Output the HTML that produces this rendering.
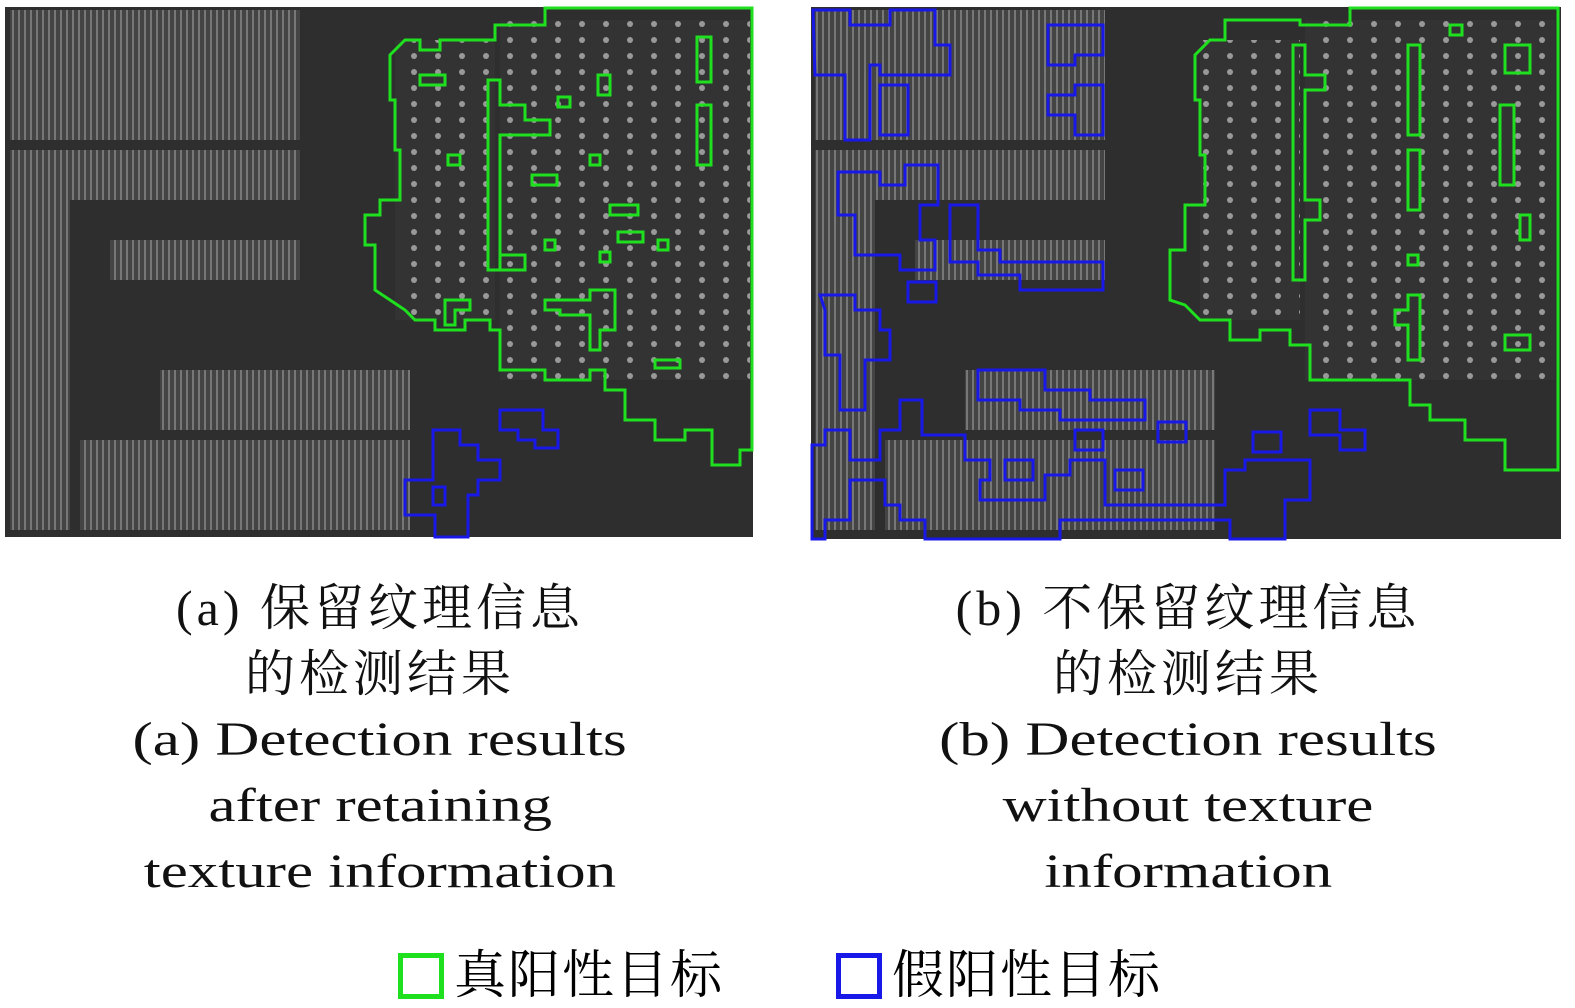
<!DOCTYPE html>
<html><head><meta charset="utf-8"><style>
body{margin:0;width:1575px;height:1000px;background:#fff;overflow:hidden;position:relative;font-family:"Liberation Serif","Noto Serif CJK SC",serif;}
.cap{position:absolute;text-align:center;font-size:48px;line-height:66px;color:#111;}
.cap div{height:66px;white-space:nowrap;}
.cap span{display:inline-block;}
.l{transform:scaleX(1.27);}
.c{font-size:50px;letter-spacing:4px;}
.leg{position:absolute;top:933px;font-size:52px;letter-spacing:2px;font-family:"Liberation Serif","Noto Serif CJK SC",serif;}
.box{display:inline-block;width:36px;height:36px;border:5px solid;vertical-align:-6px;margin-right:10px;}
</style></head><body>
<svg width="1575" height="545" style="position:absolute;left:0;top:0">
<defs>
<pattern id="st" width="6" height="14" patternUnits="userSpaceOnUse"><rect width="6" height="14" fill="#444"/><rect width="2" height="14" fill="#777"/></pattern>
<pattern id="dots" width="24" height="16" patternUnits="userSpaceOnUse"><rect width="24" height="16" fill="#333"/><circle cx="6" cy="8" r="3" fill="#999"/></pattern>
</defs>
<g>
<rect x="5" y="7" width="748" height="530" fill="#2e2e2e"/>
<rect x="10" y="10" width="290" height="130" fill="url(#st)"/>
<rect x="10" y="150" width="290" height="50" fill="url(#st)"/>
<rect x="10" y="200" width="60" height="330" fill="url(#st)"/>
<rect x="110" y="240" width="190" height="40" fill="url(#st)"/>
<rect x="160" y="370" width="250" height="60" fill="url(#st)"/>
<rect x="80" y="440" width="330" height="90" fill="url(#st)"/>
<rect x="395" y="40" width="100" height="280" fill="url(#dots)"/>
<rect x="500" y="20" width="250" height="360" fill="url(#dots)"/>
<g fill="none" stroke="#1ee01e" stroke-width="3">
<path d="M545,8 L752,8 L752,450 L740,450 L740,465 L712,465 L712,430 L685,430 L685,440 L655,440 L655,420 L625,420 L625,390 L605,390 L605,370 L590,370 L590,380 L545,380 L545,370 L500,370 L500,330 L490,330 L490,320 L465,320 L465,330 L435,330 L435,320 L415,320 L405,310 L390,300 L375,290 L375,245 L365,245 L365,215 L380,215 L380,200 L400,200 L400,150 L395,150 L395,100 L390,100 L390,55 L405,40 L420,40 L420,50 L440,50 L440,40 L495,40 L495,25 L545,25 Z"/>
<path d="M488,80 L488,270 L500,270 L500,255 L525,255 L525,270 L500,270 L500,135 L550,135 L550,120 L525,120 L525,105 L500,105 L500,80 Z"/>
<rect x="420" y="75" width="25" height="10"/><rect x="448" y="155" width="12" height="10"/>
<rect x="532" y="175" width="25" height="10"/><rect x="558" y="97" width="12" height="10"/>
<rect x="598" y="75" width="12" height="20"/><rect x="590" y="155" width="10" height="10"/>
<rect x="610" y="205" width="28" height="10"/><rect x="618" y="232" width="25" height="10"/>
<rect x="600" y="252" width="10" height="10"/><rect x="545" y="240" width="10" height="10"/>
<rect x="658" y="240" width="10" height="10"/><rect x="697" y="37" width="14" height="45"/>
<rect x="697" y="105" width="14" height="60"/><rect x="655" y="360" width="25" height="8"/>
<path d="M445,300 L470,300 L470,310 L455,310 L455,325 L445,325 Z"/>
<path d="M545,300 L590,300 L590,290 L615,290 L615,330 L600,330 L600,350 L590,350 L590,315 L560,315 L560,310 L545,310 Z"/>
</g>
<g fill="none" stroke="#1818e8" stroke-width="3">
<path d="M433,430 L460,430 L460,445 L478,445 L478,460 L500,460 L500,480 L478,480 L478,495 L468,495 L468,537 L435,537 L435,515 L405,515 L405,480 L433,480 Z"/>
<rect x="433" y="487" width="12" height="18"/>
<path d="M500,410 L543,410 L543,430 L558,430 L558,448 L535,448 L535,440 L518,440 L518,430 L500,430 Z"/>
</g>
</g>
<g>
<rect x="811" y="7" width="750" height="532" fill="#2e2e2e"/>
<rect x="815" y="10" width="290" height="130" fill="url(#st)"/>
<rect x="815" y="150" width="290" height="50" fill="url(#st)"/>
<rect x="815" y="200" width="60" height="330" fill="url(#st)"/>
<rect x="915" y="240" width="190" height="40" fill="url(#st)"/>
<rect x="965" y="370" width="250" height="60" fill="url(#st)"/>
<rect x="885" y="440" width="330" height="90" fill="url(#st)"/>
<rect x="1200" y="40" width="100" height="280" fill="url(#dots)"/>
<rect x="1305" y="20" width="250" height="360" fill="url(#dots)"/>
<g fill="none" stroke="#1ee01e" stroke-width="3">
<path d="M1350,8 L1558,8 L1558,470 L1505,470 L1505,440 L1465,440 L1465,420 L1430,420 L1430,405 L1410,405 L1410,380 L1310,380 L1310,345 L1290,345 L1290,330 L1260,330 L1260,340 L1230,340 L1230,320 L1200,320 L1185,305 L1170,300 L1170,250 L1185,250 L1185,205 L1205,205 L1205,155 L1200,155 L1200,100 L1195,100 L1195,55 L1210,40 L1225,40 L1225,20 L1300,20 L1300,25 L1350,25 Z"/>
<path d="M1293,45 L1293,280 L1305,280 L1305,220 L1320,220 L1320,200 L1305,200 L1305,90 L1325,90 L1325,75 L1305,75 L1305,45 Z"/>
<rect x="1408" y="45" width="12" height="90"/><rect x="1408" y="150" width="12" height="60"/>
<rect x="1500" y="105" width="14" height="80"/><rect x="1505" y="45" width="25" height="28"/>
<rect x="1520" y="215" width="10" height="25"/><rect x="1505" y="335" width="25" height="15"/>
<rect x="1408" y="255" width="10" height="10"/><rect x="1450" y="25" width="12" height="10"/>
<path d="M1408,295 L1420,295 L1420,360 L1408,360 L1408,325 L1395,325 L1395,310 L1408,310 Z"/>
</g>
<g fill="none" stroke="#1818e8" stroke-width="3">
<path d="M813,10 L850,10 L850,25 L890,25 L890,10 L935,10 L935,45 L950,45 L950,75 L880,75 L880,65 L870,65 L870,140 L845,140 L845,75 L815,75 Z"/>
<rect x="880" y="85" width="28" height="50"/>
<path d="M1048,25 L1103,25 L1103,55 L1075,55 L1075,65 L1048,65 Z"/>
<path d="M1048,95 L1075,95 L1075,85 L1103,85 L1103,135 L1075,135 L1075,115 L1048,115 Z"/>
<path d="M838,172 L880,172 L880,185 L905,185 L905,165 L938,165 L938,205 L920,205 L920,240 L935,240 L935,270 L900,270 L900,255 L855,255 L855,215 L838,215 Z"/>
<path d="M950,205 L978,205 L978,250 L1000,250 L1000,262 L1103,262 L1103,290 L1020,290 L1020,275 L978,275 L978,262 L950,262 Z"/>
<rect x="908" y="282" width="28" height="20"/>
<path d="M820,295 L855,295 L855,310 L880,310 L880,330 L890,330 L890,360 L865,360 L865,410 L840,410 L840,355 L825,355 L825,310 Z"/>
<path d="M978,370 L1045,370 L1045,390 L1090,390 L1090,400 L1145,400 L1145,420 L1060,420 L1060,410 L1020,410 L1020,400 L978,400 Z"/>
<path d="M812,445 L825,445 L825,430 L850,430 L850,460 L880,460 L880,430 L900,430 L900,400 L922,400 L922,435 L965,435 L965,460 L990,460 L990,480 L980,480 L980,500 L1045,500 L1045,475 L1070,475 L1070,460 L1105,460 L1105,505 L1170,505 L1225,505 L1225,470 L1245,470 L1245,460 L1310,460 L1310,500 L1285,500 L1285,539 L1230,539 L1230,520 L1060,520 L1060,539 L925,539 L925,520 L900,520 L900,505 L885,505 L885,480 L850,480 L850,520 L825,520 L825,539 L812,539 Z"/>
<rect x="1075" y="430" width="28" height="20"/><rect x="1158" y="422" width="28" height="20"/>
<rect x="1115" y="470" width="28" height="20"/><rect x="1005" y="460" width="28" height="20"/>
<rect x="1253" y="432" width="28" height="20"/>
<path d="M1310,410 L1340,410 L1340,430 L1365,430 L1365,450 L1340,450 L1340,435 L1310,435 Z"/>
</g>
</g>
</svg>
<div class="cap" style="left:80px;width:600px;top:575px">
<div><span class="c">(a) 保留纹理信息</span></div>
<div><span class="c">的检测结果</span></div>
<div><span class="l">(a) Detection results</span></div>
<div><span class="l">after retaining</span></div>
<div><span class="l">texture information</span></div>
</div>
<div class="cap" style="left:888px;width:600px;top:575px">
<div><span class="c">(b) 不保留纹理信息</span></div>
<div><span class="c">的检测结果</span></div>
<div><span class="l">(b) Detection results</span></div>
<div><span class="l">without texture</span></div>
<div><span class="l">information</span></div>
</div>
<div class="leg" style="left:398px"><span class="box" style="border-color:#1ee01e"></span>真阳性目标</div>
<div class="leg" style="left:836px"><span class="box" style="border-color:#1818e8"></span>假阳性目标</div>
</body></html>
